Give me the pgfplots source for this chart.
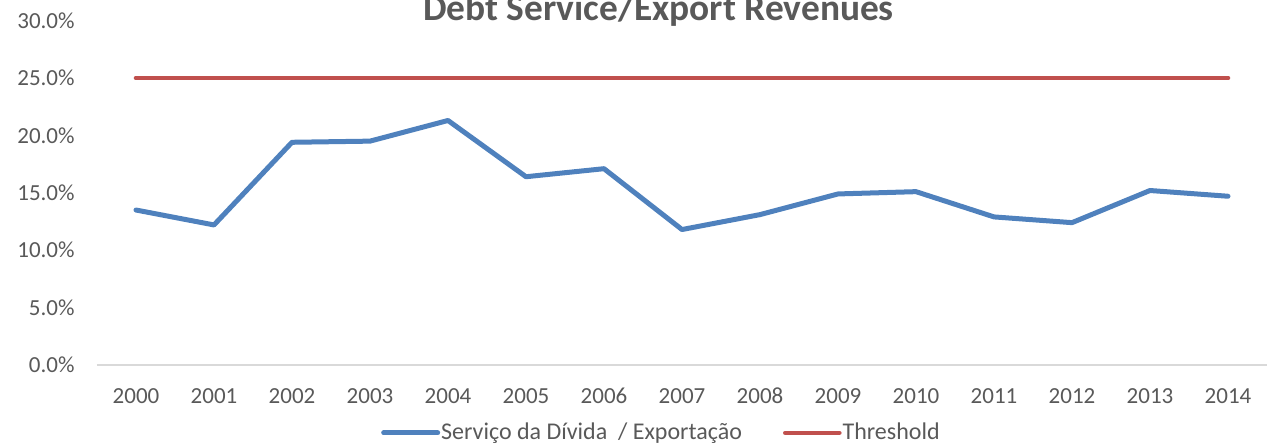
\documentclass[border=0pt]{standalone}
\usepackage{fontspec}
\setmainfont{Carlito}
\usepackage{pgfplots}
\pgfplotsset{compat=1.18}
\definecolor{serblue}{HTML}{4F81BD}
\definecolor{thrred}{HTML}{C0504D}
\definecolor{txtgray}{HTML}{595959}
\definecolor{axgray}{HTML}{D9D9D9}
\begin{document}
\begin{tikzpicture}
\begin{axis}[
  scale only axis,
  at={(48.5bp,39.5bp)}, anchor=south west,
  width=585bp, height=172.2bp,
  xmin=-0.5, xmax=14.5,
  ymin=0, ymax=30,
  xtick={0,...,14},
  xticklabels={2000,2001,2002,2003,2004,2005,2006,2007,2008,2009,2010,2011,2012,2013,2014},
  ytick={0,5,...,30},
  yticklabel={\pgfmathprintnumber[fixed,fixed zerofill,precision=1]{\tick}\%},
  /pgf/number format/assume math mode=true,
  tick style={draw=none},
  axis y line*=left,
  axis x line*=bottom,
  y axis line style={draw=none},
  x axis line style={draw=axgray, line width=0.75bp, -},
  xticklabel style={font=\fontsize{11.5bp}{13bp}\selectfont, text=txtgray, anchor=base, yshift=-19.2bp},
  yticklabel style={font=\fontsize{11.5bp}{13bp}\selectfont, text=txtgray, xshift=-7.7bp},
  clip=false,
  legend columns=2,
  legend style={at={(0.482,-0.197)}, anchor=center, draw=none, fill=none,
    font=\fontsize{12bp}{14bp}\selectfont, text=txtgray,
    nodes={inner xsep=0.5bp},
    /tikz/every even column/.append style={column sep=20bp}},
  legend image code/.code={\draw[#1, line cap=round] (0bp,0bp) -- (27bp,0bp);},
]
\addplot[serblue, line width=2.5bp, line join=round, line cap=round] coordinates {
 (0,13.5) (1,12.2) (2,19.4) (3,19.5) (4,21.3) (5,16.4) (6,17.1) (7,11.8)
 (8,13.1) (9,14.9) (10,15.1) (11,12.9) (12,12.4) (13,15.2) (14,14.7)};
\addlegendentry{Serviço da Dívida~ / Exportação}
\addplot[thrred, line width=2.3bp, line cap=round] coordinates {
 (0,25) (1,25) (2,25) (3,25) (4,25) (5,25) (6,25) (7,25)
 (8,25) (9,25) (10,25) (11,25) (12,25) (13,25) (14,25)};
\addlegendentry{Threshold}
\end{axis}
\node[anchor=base, font=\fontsize{18.7bp}{21bp}\selectfont\bfseries, text=txtgray, inner sep=0pt] at (329.25bp,211.6bp) {Debt Service/Export Revenues};
\pgfresetboundingbox
\useasboundingbox (0,0) rectangle (635.5bp,222bp);
\end{tikzpicture}
\end{document}
